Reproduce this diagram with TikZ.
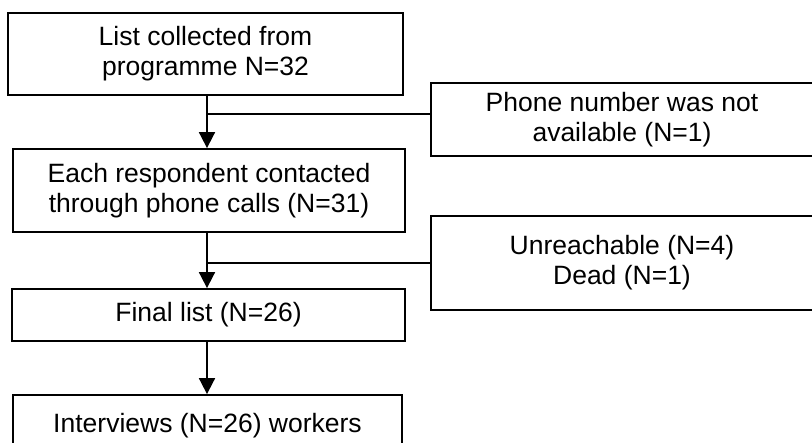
\documentclass[tikz,border=0pt]{standalone}
\usepackage{fontspec}
\setmainfont{Liberation Sans}
\usetikzlibrary{positioning,arrows.meta}

\tikzset{
    flowbox/.style={draw, rectangle, line width=1.8pt, align=center, inner sep=0pt},
    sidebox/.style={flowbox, minimum width=382, minimum height=0},
}

\begin{document}
\begin{tikzpicture}[x=1pt, y=-1pt, >={Triangle[width=16pt,length=16pt]}, line width=1.8pt,
    font=\fontsize{26.5}{30}\selectfont]

        \useasboundingbox (0,0) rectangle (812,443);

        % Main column of boxes
        \node[flowbox, minimum width=395, minimum height=82] (list) at (205.5,54) {List collected from\\programme N=32};
        \node[flowbox, minimum width=392, minimum height=83] (calls) at (209,190.5) {Each respondent contacted\\through phone calls (N=31)};
        \node[flowbox, minimum width=393, minimum height=52] (final) at (208.5,315) {Final list (N=26)};
        \node[flowbox, minimum width=389, minimum height=62] (interviews) at (207.5,426) {Interviews (N=26) workers};

        % Excluded cases on the right
        \node[sidebox, minimum height=73] (nophone) at (622,119.5) {Phone number was not\\available (N=1)};
        \node[sidebox, minimum height=94] (lost) at (622,263) {Unreachable (N=4)\\Dead (N=1)};

        % Branch points on the trunk
        \coordinate (split1) at (207,114);
        \coordinate (split2) at (207,263);

        % Arrows down the trunk and side branches
        \draw[->] (list.south -| split1) -- (calls.north -| split1);
        \draw (split1) -- (split1 -| nophone.west);
        \draw[->] (calls.south -| split2) -- (final.north -| split2);
        \draw (split2) -- (lost.west);
        \draw[->] (final.south -| split2) -- (interviews.north -| split2);
    \end{tikzpicture}
\end{document}
